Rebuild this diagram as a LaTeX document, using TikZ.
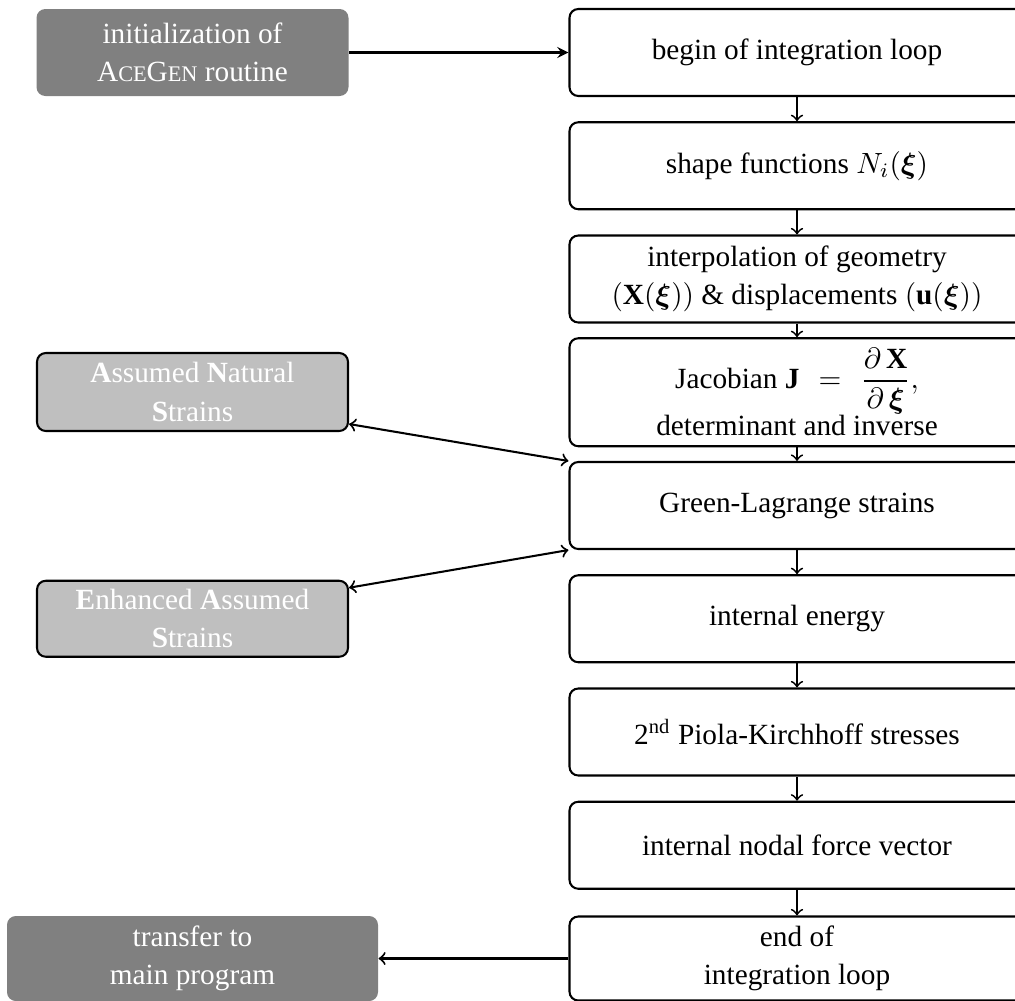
\documentclass[tikz,border=0pt]{standalone}
\usepackage{amsmath}
\usepackage{bm}
\usepackage{fontspec}
\setmainfont{Liberation Serif}
\usetikzlibrary{calc,arrows}
\def\PX{0.3413pt}
\newcommand{\fakesc}[1]{{\fontsize{7.6}{9}\selectfont #1}}
\newcommand{\lsh}{\hspace*{-11.95pt}}
\begin{document}
\begin{tikzpicture}[x=\PX,y=-\PX,
  mainbox/.style={draw, line width=0.7pt, rounded corners=3pt, minimum width=490*\PX,
    minimum height=87*\PX, align=center, inner sep=0pt, overlay,
    font=\fontsize{10}{13}\selectfont},
  darkbox/.style={fill=gray, text=white, rounded corners=3pt, minimum height=87*\PX,
    align=center, inner sep=0pt, font=\fontsize{10}{13}\selectfont},
  lightbox/.style={draw, line width=0.7pt, fill=lightgray, text=white, rounded corners=3pt,
    minimum width=311*\PX, minimum height=77*\PX, align=center, inner sep=0pt,
    font=\fontsize{10}{13}\selectfont},
  vconn/.style={->, line width=0.62pt},
  hconn/.style={line width=0.7pt},
]
\useasboundingbox (0,0) rectangle (1015,1000);
\clip (0,0) rectangle (1015,1000);
\coordinate (ax) at (797,0);

% right column (text centred at x = 797, box runs past the right edge)
\node[mainbox] (begin) at (814.5,52.5) {\lsh begin of integration loop};
\node[mainbox] (shape) at (814.5,165.75) {\lsh shape functions $N_i(\boldsymbol{\xi})$};
\node[mainbox] (interp) at (814.5,279) {\lsh interpolation of geometry\\
  \lsh $(\mathbf{X}(\boldsymbol{\xi}))$ \& displacements $(\mathbf{u}(\boldsymbol{\xi}))$};
\node[mainbox, minimum height=108*\PX] (jac) at (814.5,392.25) {\lsh Jacobian $\mathbf{J}$\hspace{6.5pt}$=$\hspace{6.5pt}$\displaystyle\frac{\partial\,\mathbf{X}}{\partial\,\boldsymbol{\xi}},$\\[-0.5pt]
  \lsh determinant and inverse};
\node[mainbox] (gl) at (814.5,505.5) {\lsh Green-Lagrange strains};
\node[mainbox] (ie) at (814.5,618.75) {\lsh internal energy};
\node[mainbox] (pk) at (814.5,732) {\lsh 2\textsuperscript{nd} Piola-Kirchhoff stresses};
\node[mainbox] (inf) at (814.5,845.25) {\lsh internal nodal force vector};
\node[mainbox, minimum height=84*\PX] (end) at (814.5,958.5) {\lsh end of\\ \lsh integration loop};

% left column
\node[darkbox, minimum width=312*\PX] (init) at (192.5,52.5) {initialization of\\ A\fakesc{CE}G\fakesc{EN} routine};
\node[lightbox, minimum height=78*\PX] (ans) at (192.5,392) {\textbf{A}ssumed \textbf{N}atural\\ \textbf{S}trains};
\node[lightbox, minimum height=76*\PX] (eas) at (192.5,618.75) {\textbf{E}nhanced \textbf{A}ssumed\\ \textbf{S}trains};
\node[darkbox, minimum width=371*\PX, minimum height=85*\PX, overlay] (transfer) at (192.5,958.5) {transfer to\\ main program};

% connectors
\draw[hconn, -stealth] (init) -- (init -| begin.west);
\draw[vconn] (begin.south -| ax) -- (shape.north -| ax);
\draw[vconn] (shape.south -| ax) -- (interp.north -| ax);
\draw[vconn] (interp.south -| ax) -- (jac.north -| ax);
\draw[vconn] (jac.south -| ax) -- (gl.north -| ax);
\draw[vconn] (gl.south -| ax) -- (ie.north -| ax);
\draw[vconn] (ie.south -| ax) -- (pk.north -| ax);
\draw[vconn] (pk.south -| ax) -- (inf.north -| ax);
\draw[vconn] (inf.south -| ax) -- (end.north -| ax);
\draw[hconn, <->] ($(ans.south east)+(0,-8)$) -- (gl.north west);
\draw[hconn, <->] ($(eas.north east)+(0,8)$) -- (gl.south west);
\draw[hconn, ->] (end.west) -- (end.west -| transfer.east);
\end{tikzpicture}
\end{document}
